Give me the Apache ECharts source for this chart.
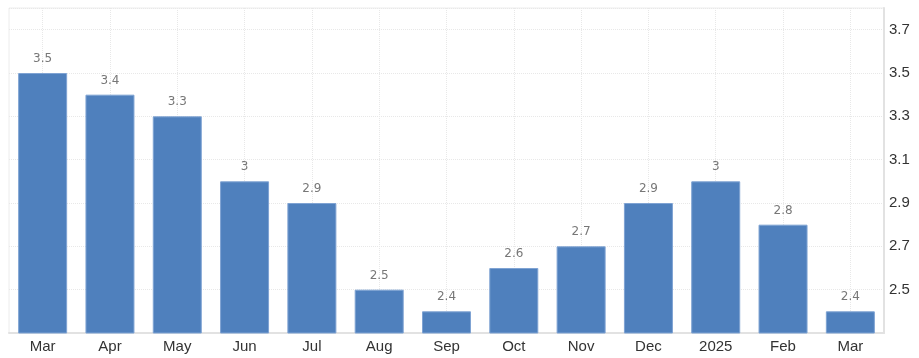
<!DOCTYPE html>
<html><head><meta charset="utf-8">
<script src="https://cdn.jsdelivr.net/npm/echarts@6/dist/echarts.min.js"></script>
<style>html,body{margin:0;padding:0;background:#fff}#c{width:919px;height:358px}</style>
</head><body><div id="c"></div>
<script>
const categories = ['Mar','Apr','May','Jun','Jul','Aug','Sep','Oct','Nov','Dec','2025','Feb','Mar'];
const values = [3.5, 3.4, 3.3, 3, 2.9, 2.5, 2.4, 2.6, 2.7, 2.9, 3, 2.8, 2.4];
const yMin = 2.3, yMax = 3.8, yInterval = 0.2;

const chart = echarts.init(document.getElementById('c'));
chart.setOption({
  animation: false,
  grid: {left: 9, right: 35, top: 8, bottom: 25, show: true, borderColor: '#ececec', borderWidth: 1},
  xAxis: {
    type: 'category', data: categories,
    axisLine: {show: true, lineStyle: {color: '#e2e2e2', width: 2}},
    axisTick: {show: false},
    axisLabel: {color: '#333', fontSize: 15, fontFamily: 'Liberation Sans, Arial', margin: 6},
    splitLine: {show: true, alignWithLabel: true, lineStyle: {color: '#e8e8e8', type: 'dotted'}}
  },
  yAxis: {
    type: 'value', position: 'right', min: yMin, max: yMax, interval: yInterval,
    axisLine: {show: true, lineStyle: {color: '#e2e2e2', width: 2}},
    axisTick: {show: false},
    axisLabel: {color: '#333', fontSize: 15, fontFamily: 'Liberation Sans, Arial', margin: 5,
      showMinLabel: false, showMaxLabel: false,
      formatter: v => (Math.round(v*10)/10).toFixed(1)},
    splitLine: {show: true, lineStyle: {color: '#e8e8e8', type: 'dotted'}}
  },
  series: [{
    type: 'bar', data: values, barWidth: 49,
    itemStyle: {color: '#4F80BD', borderColor: '#7fa3d3', borderWidth: 1},
    label: {show: true, position: 'top', distance: 8, color: '#777', fontSize: 12,
      fontFamily: 'DejaVu Sans, sans-serif', letterSpacing: 1, formatter: p => String(p.value)}
  }]
});
</script></body></html>
